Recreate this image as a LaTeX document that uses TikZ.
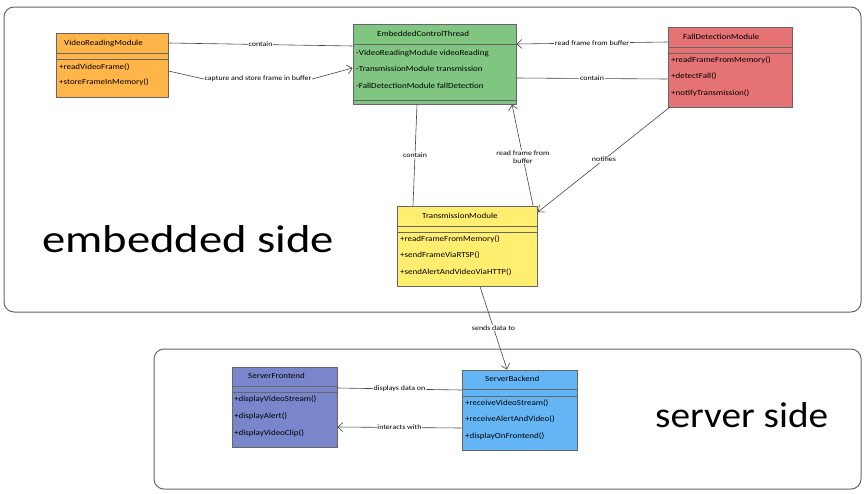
\documentclass[tikz,border=0pt]{standalone}
\usepackage{fontspec}
\setmainfont[FakeStretch=1.15]{Carlito}
\newfontfamily\bigfont{Carlito}
\usetikzlibrary{arrows.meta,fit}
\definecolor{cOrange}{HTML}{FFB548}
\definecolor{cGreen}{HTML}{80C680}
\definecolor{cRed}{HTML}{E57373}
\definecolor{cYellow}{HTML}{FFEE70}
\definecolor{cPurple}{HTML}{7986CB}
\definecolor{cBlue}{HTML}{64B5F6}
\definecolor{cLine}{HTML}{444444}
\definecolor{cFrame}{HTML}{666666}
\tikzset{
  classbox/.style={draw=cFrame, line width=0.9pt, inner sep=0pt, rectangle},
  sepline/.style={draw=cFrame, line width=0.6pt},
  ctitle/.style={anchor=west, inner sep=0pt, font=\fontsize{7.8}{8}\selectfont},
  cmember/.style={anchor=west, inner sep=0pt, font=\fontsize{7.8}{8}\selectfont},
  conn/.style={draw=cLine, line width=0.6pt},
  arr/.style={conn, -{Straight Barb[length=5pt,width=9pt,line width=0.6pt]}},
  lbl/.style={fill=white, inner sep=0.6pt, font=\fontsize{6.9}{7.5}\selectfont, align=center},
  container/.style={draw=cFrame, line width=1pt, rounded corners=10pt},
  big/.style={inner sep=0pt, anchor=base west, font=\bigfont}
}
\begin{document}
\begin{tikzpicture}[x=1pt,y=-1pt]
\useasboundingbox (0,0) rectangle (866,493);
% containers
\node[container, fit={(4,7) (861,312)}, inner sep=0pt] (emb) {};
\node[container, fit={(154,349) (861,489)}, inner sep=0pt] (srv) {};
\node[big] (embt) at (42,252) {\resizebox{292pt}{27pt}{embedded side}};
\node[big] (srvt) at (655,427) {\resizebox{173pt}{25pt}{server side}};

% VideoReadingModule
\node[classbox, fill=cOrange, fit={(56,33) (168,97)}] (vrm) {};
\draw[sepline] (vrm.west |- 0,53) -- (vrm.east |- 0,53);
\draw[sepline] (vrm.west |- 0,59) -- (vrm.east |- 0,59);
\node[ctitle] (vrmt) at (64,43) {VideoReadingModule};
\node[cmember] (vrm1) at (59,67) {+readVideoFrame()};
\node[cmember] (vrm2) at (59,82) {+storeFrameInMemory()};

% EmbeddedControlThread
\node[classbox, fill=cGreen, fit={(353,24) (516,104)}] (ect) {};
\draw[sepline] (ect.west |- 0,44) -- (ect.east |- 0,44);
\draw[sepline] (ect.west |- 0,100) -- (ect.east |- 0,100);
\node[ctitle] (ectt) at (377,34) {EmbeddedControlThread};
\node[cmember] (ect1) at (356,53) {-VideoReadingModule videoReading};
\node[cmember] (ect2) at (356,69) {-TransmissionModule transmission};
\node[cmember] (ect3) at (356,86) {-FallDetectionModule fallDetection};

% FallDetectionModule
\node[classbox, fill=cRed, fit={(668,27) (792,107)}] (fdm) {};
\draw[sepline] (fdm.west |- 0,47) -- (fdm.east |- 0,47);
\draw[sepline] (fdm.west |- 0,53) -- (fdm.east |- 0,53);
\node[ctitle] (fdmt) at (683,37) {FallDetectionModule};
\node[cmember] (fdm1) at (671,60) {+readFrameFromMemory()};
\node[cmember] (fdm2) at (671,76) {+detectFall()};
\node[cmember] (fdm3) at (671,93) {+notifyTransmission()};

% TransmissionModule
\node[classbox, fill=cYellow, fit={(397,206) (537,286)}] (tm) {};
\draw[sepline] (tm.west |- 0,226) -- (tm.east |- 0,226);
\draw[sepline] (tm.west |- 0,232) -- (tm.east |- 0,232);
\node[ctitle] (tmt) at (422,216) {TransmissionModule};
\node[cmember] (tm1) at (400,239) {+readFrameFromMemory()};
\node[cmember] (tm2) at (400,255) {+sendFrameViaRTSP()};
\node[cmember] (tm3) at (400,272) {+sendAlertAndVideoViaHTTP()};

% ServerFrontend
\node[classbox, fill=cPurple, fit={(232,367) (337,447)}] (sf) {};
\draw[sepline] (sf.west |- 0,386) -- (sf.east |- 0,386);
\draw[sepline] (sf.west |- 0,392) -- (sf.east |- 0,392);
\node[ctitle] (sft) at (248,376) {ServerFrontend};
\node[cmember] (sf1) at (234,399) {+displayVideoStream()};
\node[cmember] (sf2) at (234,416) {+displayAlert()};
\node[cmember] (sf3) at (234,433) {+displayVideoClip()};

% ServerBackend
\node[classbox, fill=cBlue, fit={(462,370) (577,450)}] (sb) {};
\draw[sepline] (sb.west |- 0,389) -- (sb.east |- 0,389);
\draw[sepline] (sb.west |- 0,396) -- (sb.east |- 0,396);
\node[ctitle] (sbt) at (485,379) {ServerBackend};
\node[cmember] (sb1) at (465,403) {+receiveVideoStream()};
\node[cmember] (sb2) at (465,419) {+receiveAlertAndVideo()};
\node[cmember] (sb3) at (465,436) {+displayOnFrontend()};

% connectors
\draw[conn] (vrm.east |- 0,43) -- node[lbl] (l1) {contain} (ect.west |- 0,46);
\node[lbl] (l2) at (258,79) {capture and store frame in buffer};
\draw[conn] (vrm.east |- 0,71) -- (l2.west);
\draw[arr] (l2.east) -- (ect.west |- 0,68);
\draw[arr] (fdm.west |- 0,42) -- node[lbl] (l3) {read frame from buffer} (ect.east |- 0,44);
\draw[conn] (ect.east |- 0,78) -- node[lbl] (l4) {contain} (fdm.west |- 0,79);
\draw[conn] (ect.south -| 417,0) -- node[lbl] (l5) {contain} (tm.north -| 413,0);
\draw[arr] (tm.north -| 533,0) -- node[lbl, pos=0.48] (l6) {read frame from\\buffer} (ect.south -| 512,0);
\coordinate (fdmout) at (670,107);
\draw[arr] (fdmout) -- node[lbl] (l7) {notifies} (538,212);
\draw[arr] (tm.south -| 480,0) -- node[lbl] (l8) {sends data to} (sb.north -| 507,0);
\draw[conn] (sb.west |- 0,390) -- node[lbl] (l9) {displays data on} (sf.east |- 0,388);
\draw[arr] (sb.west |- 0,428) -- node[lbl] (l10) {interacts with} (sf.east |- 0,427);
\end{tikzpicture}
\end{document}
